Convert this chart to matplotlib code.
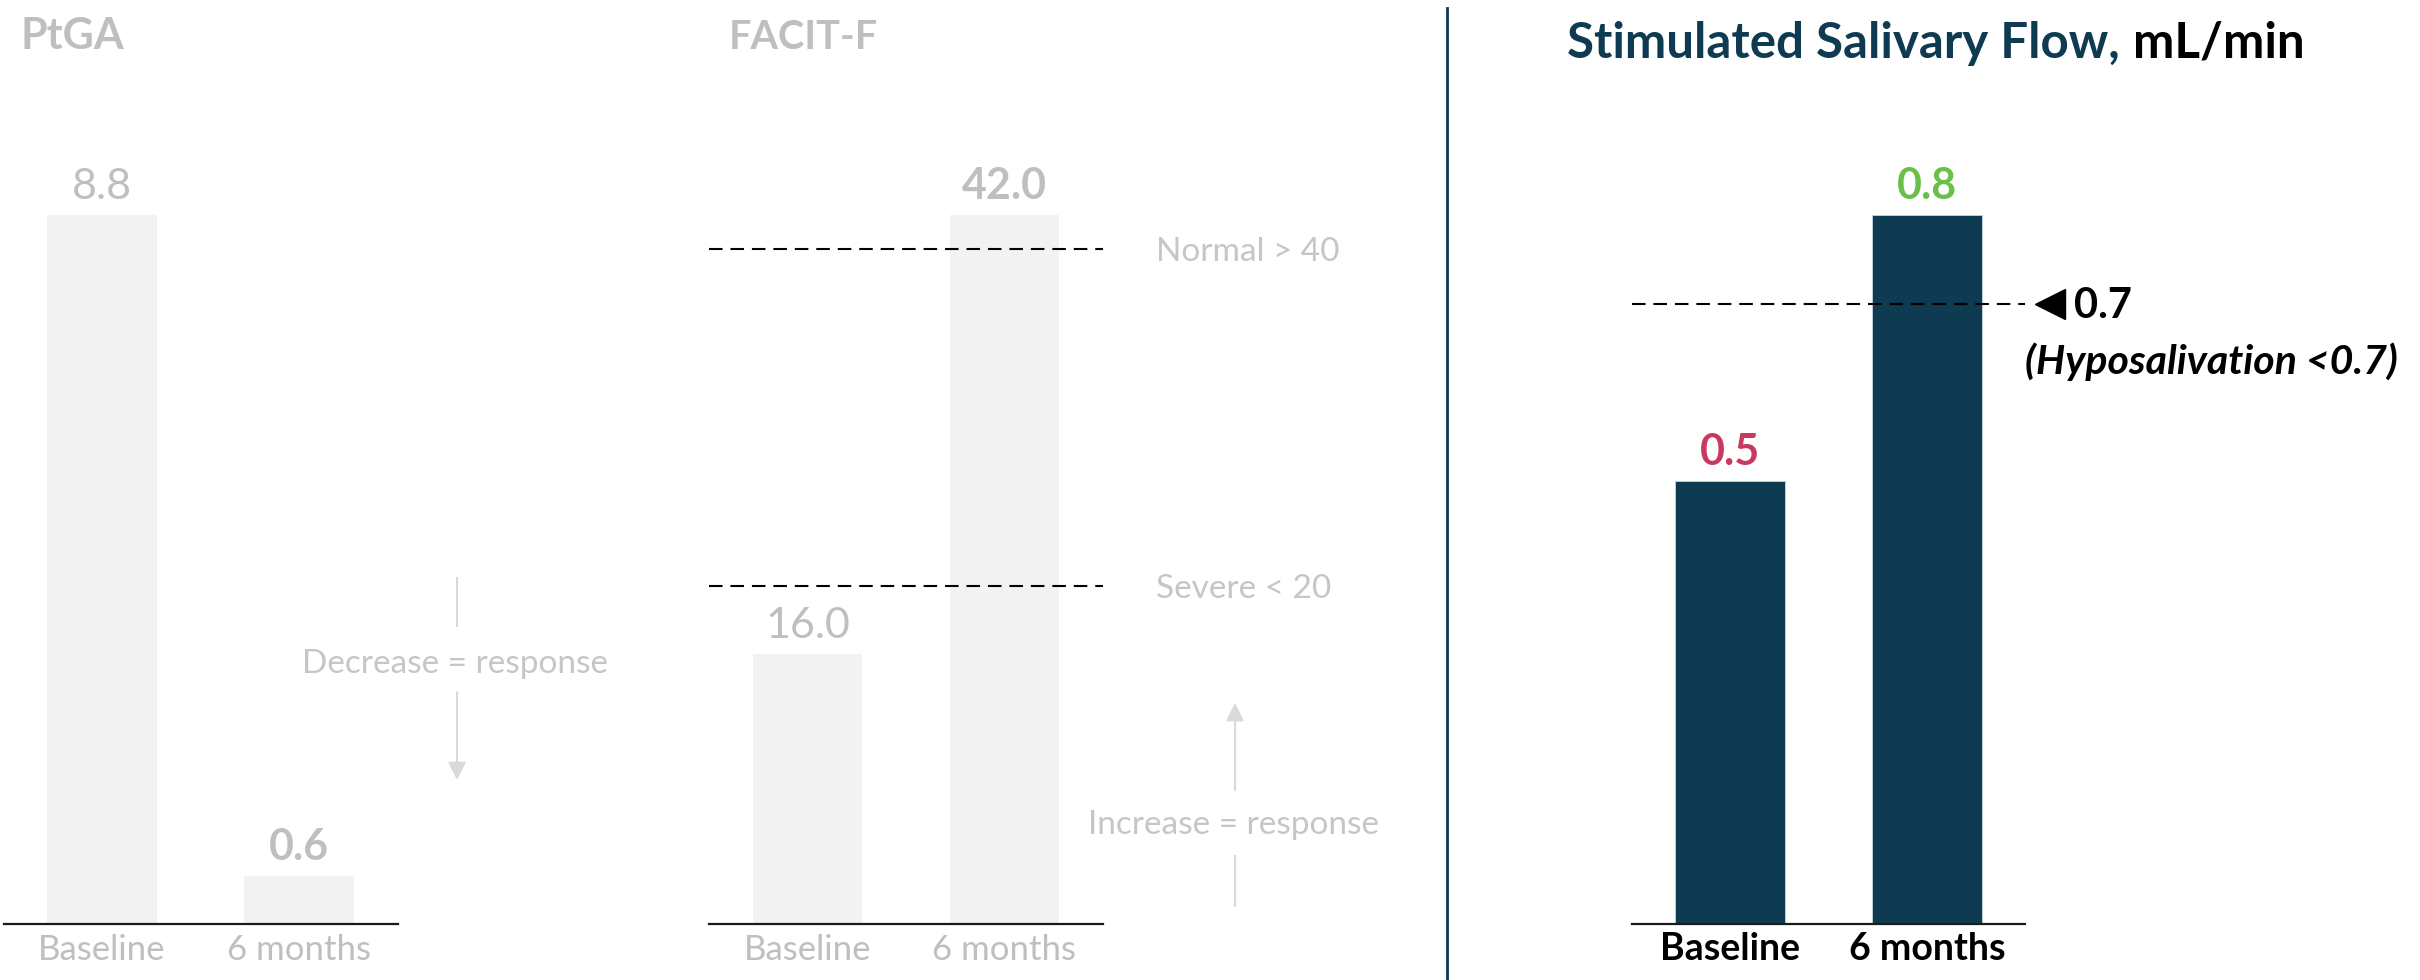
import matplotlib
matplotlib.use("Agg")
import matplotlib.pyplot as plt
from matplotlib.transforms import blended_transform_factory

plt.rcParams['font.family'] = ['Lato', 'DejaVu Sans']

W, H = 2420, 980

# ---- data -------------------------------------------------------------
timepoints = ["Baseline", "6 months"]
ptga_values = [8.8, 0.6]
facit_values = [16.0, 42.0]
saliva_values = [0.5, 0.8]
facit_thresholds = [40, 20]
facit_threshold_labels = ["Normal > 40", "Severe < 20"]
hyposalivation_cutoff = 0.7

# ---- colours ----------------------------------------------------------
GRAY_BAR = "#f2f2f2"
GRAY_TEXT = "#bfbfbf"
NOTE_TEXT = "#c6c6c6"
ARROW = "#d9d9d9"
NAVY = "#0e3a52"
RED = "#c9385f"
GREEN = "#6abf4b"
AXIS = "#1a1a1a"

fig = plt.figure(figsize=(W / 100, H / 100), dpi=100)


def panel(left_px, top_px=215, bottom_px=924, width_px=394):
    return fig.add_axes([left_px / W, 1 - bottom_px / H,
                         width_px / W, (bottom_px - top_px) / H])


def setup(ax, values, tick_color, tick_weight, tick_size, pad):
    ax.set_xlim(-0.5, 1.5)
    ax.set_ylim(0, max(values))
    for s in ("left", "right", "top"):
        ax.spines[s].set_visible(False)
    ax.spines["bottom"].set_linewidth(1.6)
    ax.spines["bottom"].set_color(AXIS)
    ax.set_yticks([])
    ax.set_xticks(range(len(timepoints)), timepoints)
    ax.tick_params(axis="x", length=0, pad=pad, labelsize=tick_size,
                   labelcolor=tick_color)
    for lab in ax.get_xticklabels():
        lab.set_fontweight(tick_weight)
    ax.patch.set_alpha(0)


def value_labels(ax, values, colors, weights):
    for i, v in enumerate(values):
        ax.annotate(f"{v:.1f}", xy=(i, v), xytext=(0, 16),
                    textcoords="offset pixels", ha="center", va="baseline",
                    fontsize=31, fontweight=weights[i], color=colors[i],
                    annotation_clip=False)


def seg(ax, x, y0, y1):
    ax.plot([x, x], [y0, y1], color=ARROW, lw=1.5, transform=ax.transAxes,
            clip_on=False, solid_capstyle="butt")


def arrow(ax, x, y_from, y_to):
    ax.annotate("", xy=(x, y_to), xytext=(x, y_from), xycoords=ax.transAxes,
                textcoords=ax.transAxes, annotation_clip=False,
                arrowprops=dict(arrowstyle="-|>", color=ARROW, lw=1.5,
                                mutation_scale=27, shrinkA=0, shrinkB=0))


DASH = (0, (6.5, 3.8))

# ---- PtGA ---------------------------------------------------------------
ax1 = panel(3.5)
ax1.bar(range(len(ptga_values)), ptga_values, width=0.555, color=GRAY_BAR)
setup(ax1, ptga_values, GRAY_TEXT, "normal", 25, 7)
value_labels(ax1, ptga_values, [GRAY_TEXT, GRAY_TEXT], ["normal", "bold"])
seg(ax1, 1.151, 0.489, 0.419)
ax1.text(1.146, 0.354, "Decrease = response", transform=ax1.transAxes,
         ha="center", va="baseline", fontsize=24, color=NOTE_TEXT)
arrow(ax1, 1.151, 0.327, 0.203)
fig.text(20 / W, 1 - 49 / H, "PtGA", fontsize=31, fontweight="bold",
         color=GRAY_TEXT, va="baseline")

# ---- FACIT-F ------------------------------------------------------------
ax2 = panel(709)
ax2.bar(range(len(facit_values)), facit_values, width=0.555, color=GRAY_BAR)
setup(ax2, facit_values, GRAY_TEXT, "normal", 25, 7)
value_labels(ax2, facit_values, [GRAY_TEXT, GRAY_TEXT], ["normal", "bold"])
tr2 = blended_transform_factory(ax2.transAxes, ax2.transData)
for thr, lab in zip(facit_thresholds, facit_threshold_labels):
    ax2.axhline(thr, color="black", lw=1.5, ls=DASH, zorder=3)
    ax2.annotate(lab, xy=(1.1345, thr), xycoords=tr2, xytext=(0, -12),
                 textcoords="offset pixels", ha="left", va="baseline",
                 fontsize=24, color=NOTE_TEXT, annotation_clip=False)
arrow(ax2, 1.335, 0.189, 0.3117)
ax2.text(1.330, 0.127, "Increase = response", transform=ax2.transAxes,
         ha="center", va="baseline", fontsize=24, color=NOTE_TEXT)
seg(ax2, 1.335, 0.0973, 0.024)
fig.text(729 / W, 1 - 49 / H, "FACIT-F", fontsize=28.5, fontweight="bold",
         color=GRAY_TEXT, va="baseline")

# ---- divider ----------------------------------------------------------------
fig.add_artist(plt.Line2D([1447 / W, 1447 / W], [0, 1 - 8 / H],
                          transform=fig.transFigure, color=NAVY, lw=2))

# ---- Stimulated salivary flow --------------------------------------------
ax3 = panel(1631.5)
ax3.bar(range(len(saliva_values)), saliva_values, width=0.555, color=NAVY,
        edgecolor="#c9d6de", linewidth=0.6)
setup(ax3, saliva_values, "black", "bold", 27, 6)
value_labels(ax3, saliva_values, [RED, GREEN], ["bold", "bold"])
ax3.axhline(hyposalivation_cutoff, color="black", lw=1.5, ls=DASH, zorder=3)
tr3 = blended_transform_factory(ax3.transAxes, ax3.transData)
ax3.plot([1.0615], [hyposalivation_cutoff], marker="<", ms=21, color="black",
         transform=tr3, clip_on=False)
ax3.text(1.122, 0.855, f"{hyposalivation_cutoff}", transform=ax3.transAxes,
         ha="left", va="baseline", fontsize=30, fontweight="bold",
         color="black")
ax3.text(0.998, 0.776, f"(Hyposalivation <{hyposalivation_cutoff})",
         transform=ax3.transAxes, ha="left", va="baseline", fontsize=29.5,
         fontweight="bold", fontstyle="italic", color="black")

t1 = fig.text(1567 / W, 1 - 58 / H, "Stimulated Salivary Flow,", fontsize=35.5,
              fontweight="bold", color=NAVY, va="baseline")
renderer = fig.canvas.get_renderer()
x_end = t1.get_window_extent(renderer).x1
fig.text((x_end + 13) / W, 1 - 58 / H, "mL/min", fontsize=35.5,
         fontweight="bold", color="black", va="baseline")

fig.savefig("out.png", dpi=100, facecolor="white")
